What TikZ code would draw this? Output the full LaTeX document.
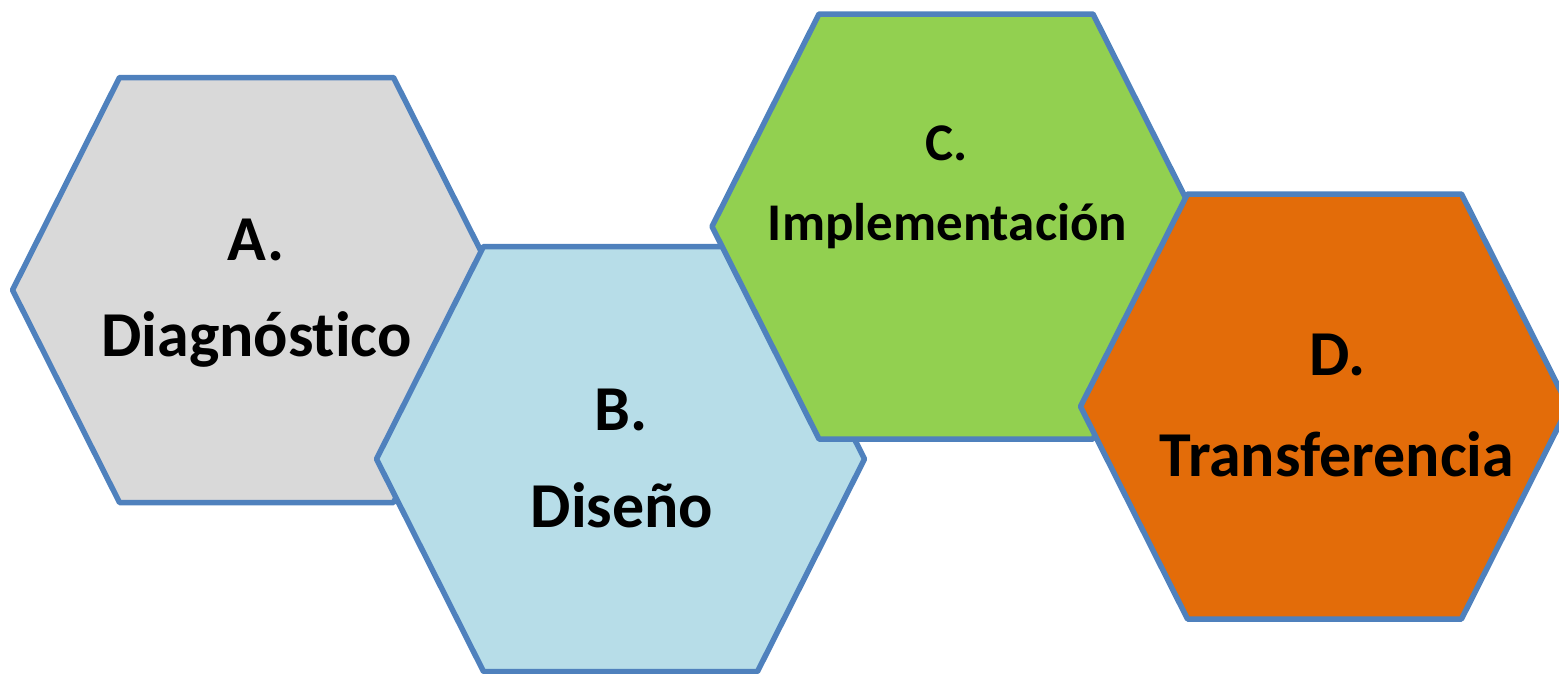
\documentclass[tikz,border=0pt]{standalone}
\usepackage{fontspec}
\setmainfont{Carlito}[Ligatures=NoCommon]
\definecolor{hexline}{HTML}{4F81BD}
\definecolor{hexA}{HTML}{D9D9D9}
\definecolor{hexB}{HTML}{B7DDE8}
\definecolor{hexC}{HTML}{92D050}
\definecolor{hexD}{HTML}{E36C09}
\newcommand{\hexpath}[1]{(#1)++(-137,-212.5) -- ++(274,0) -- ++(107,212.5) -- ++(-107,212.5) -- ++(-274,0) -- ++(-107,-212.5) -- cycle}
\tikzset{
  hexbox/.style={draw=hexline, line width=5.5pt, line join=round},
  lbl/.style={anchor=base, inner sep=0pt},
  big/.style={font=\fontsize{64}{64}\selectfont\bfseries},
  mid/.style={font=\fontsize{53}{53}\selectfont\bfseries},
}
\begin{document}
\begin{tikzpicture}[x=1pt,y=-1pt]
\useasboundingbox (0,0) rectangle (1559,673);
\coordinate (cA) at (256.5,290);
\coordinate (cB) at (620.5,459);
\coordinate (cC) at (956,226.5);
\coordinate (cD) at (1324.5,406.5);
\fill[hexA] \hexpath{cA};
\draw[hexbox] \hexpath{cA};
\node[lbl, big] (tA1) at (256,260) {A.};
\node[lbl, big] (tA2) at (256.5,356) {Diagnóstico};
\fill[hexB] \hexpath{cB};
\draw[hexbox] \hexpath{cB};
\node[lbl, big] (tB1) at (621,430) {B.};
\node[lbl, big] (tB2) at (622,527) {Diseño};
\fill[hexC] \hexpath{cC};
\draw[hexbox] \hexpath{cC};
\node[lbl, mid] (tC1) at (947,160) {C.};
\node[lbl, mid] (tC2) at (947.5,240) {Implementación};
\fill[hexD] \hexpath{cD};
\draw[hexbox] \hexpath{cD};
\node[lbl, big] (tD1) at (1338,375) {D.};
\node[lbl, big] (tD2) at (1337,476) {Transferencia};
\end{tikzpicture}
\end{document}
